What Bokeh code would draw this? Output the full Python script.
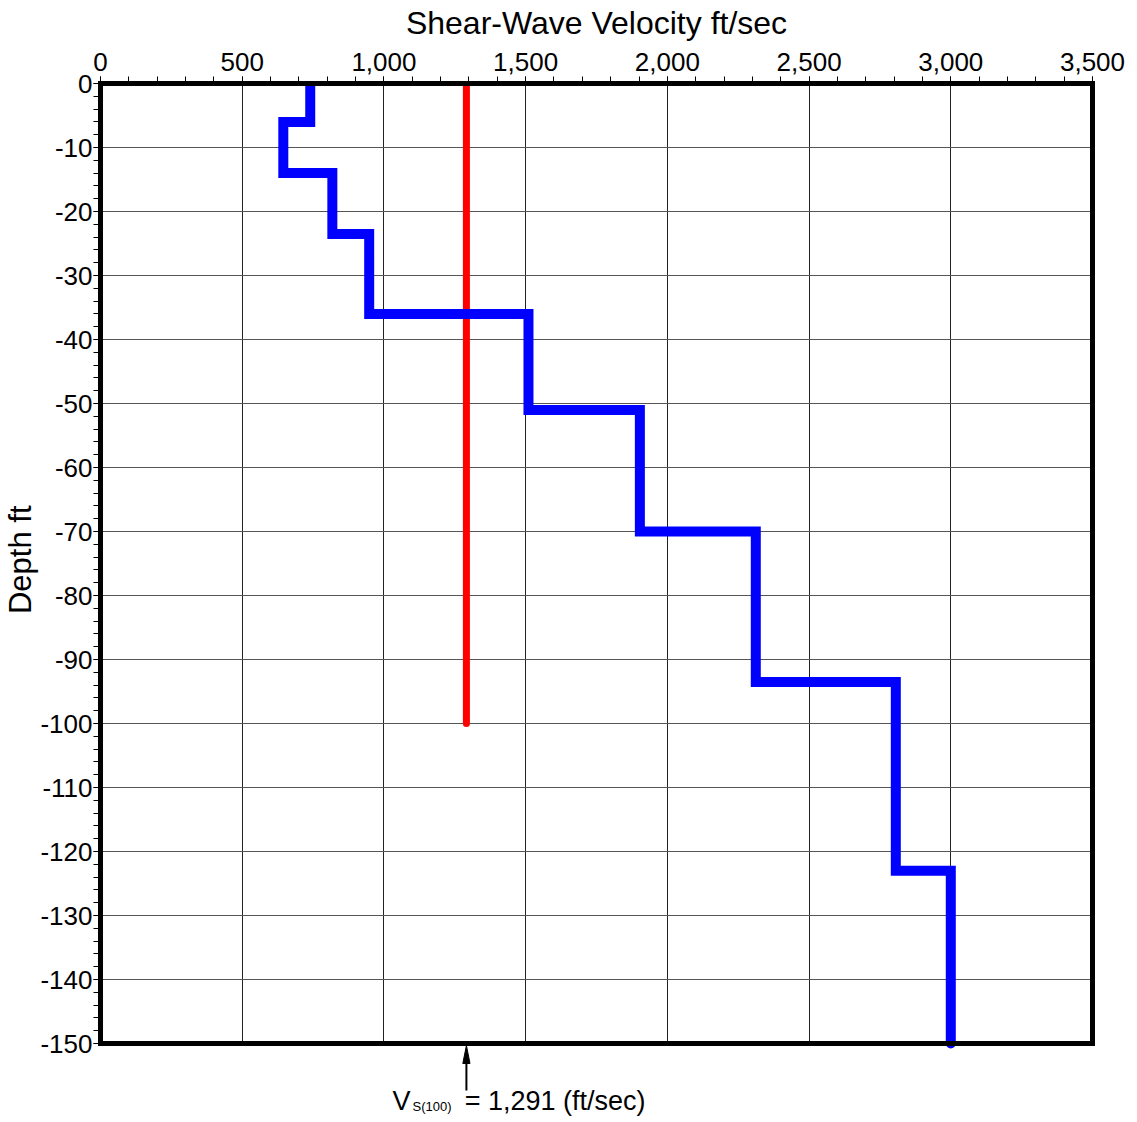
from bokeh.plotting import figure
from bokeh.models import (Range1d, SingleIntervalTicker, NumeralTickFormatter,
                          PrintfTickFormatter, FixedTicker, LinearAxis, Label, Span, Title)
from bokeh.embed import file_html
from bokeh.resources import INLINE

# --- data ---
layer_velocity = [740, 645, 818, 948, 1510, 1903, 2312, 2806, 3000]      # ft/sec
layer_top = [0, -6, -14, -23.5, -36, -51, -70, -93.5, -123]              # ft
layer_bottom = [-6, -14, -23.5, -36, -51, -70, -93.5, -123, -150]        # ft
vs100_value = 1291
vs100_depth = [0, -100]
x_min, x_max = 0, 3500
depth_min, depth_max = -150, 0
x_ticks_interval = 500
y_ticks_interval = 10

# build staircase profile from layer arrays
prof_x, prof_y = [], []
for v, t, b in zip(layer_velocity, layer_top, layer_bottom):
    prof_x += [v, v]
    prof_y += [t, b]

FONT = "Liberation Sans"
FRAME_W = 992
PX_PER_FT = 960 / (depth_max - depth_min)          # 6.4 px per ft
EXTRA_PX = 76                                        # annotation strip under the chart
FT_PER_PX = 1 / PX_PER_FT
X_PER_PX = (x_max - x_min) / FRAME_W
y_low = depth_min - EXTRA_PX * FT_PER_PX

p = figure(frame_width=FRAME_W, frame_height=960 + EXTRA_PX,
           x_range=Range1d(x_min, x_max), y_range=Range1d(y_low, depth_max),
           x_axis_location="above", y_axis_location="left",
           output_backend="svg", toolbar_location=None,
           min_border_left=100, min_border_top=83,
           min_border_right=40, min_border_bottom=0,
           outline_line_color=None,
           background_fill_color="white", border_fill_color="white")

xt = SingleIntervalTicker(interval=x_ticks_interval, num_minor_ticks=5)
yt = SingleIntervalTicker(interval=y_ticks_interval, num_minor_ticks=5)
p.xaxis.ticker = xt
p.yaxis.ticker = yt
p.xgrid.ticker = xt
p.ygrid.ticker = yt
p.yaxis.bounds = (depth_min, depth_max)
p.ygrid.bounds = (depth_min, depth_max)
p.xgrid.cross_bounds = (depth_min, depth_max)
p.xaxis.formatter = NumeralTickFormatter(format="0,0")
p.yaxis.formatter = PrintfTickFormatter(format="%d")

p.xgrid.grid_line_color = "#222222"
p.ygrid.grid_line_color = "#555555"
p.xgrid.grid_line_width = 1
p.ygrid.grid_line_width = 1

for ax in (p.xaxis, p.yaxis):
    ax.axis_line_color = "black"
    ax.axis_line_width = 5
    ax.axis_line_cap = "square"
    ax.major_tick_in = 0
    ax.minor_tick_in = 0
    ax.major_tick_out = 7
    ax.minor_tick_out = 7
    ax.major_tick_line_color = "black"
    ax.minor_tick_line_color = "black"
    ax.major_tick_line_width = 1
    ax.minor_tick_line_width = 1
    ax.major_label_text_font = FONT
    ax.major_label_text_font_size = "26px"
    ax.major_label_text_color = "black"
    ax.axis_label_text_font = FONT
    ax.axis_label_text_font_style = "normal"
    ax.axis_label_text_color = "black"

p.xaxis.axis_label = "Shear-Wave Velocity ft/sec"
p.xaxis.axis_label_text_font_size = "32px"
p.xaxis.major_label_standoff = 6
p.yaxis.major_label_standoff = 1
p.xaxis.axis_label_standoff = 9

# y-axis title, placed along the depth extent (0..-150) rather than the whole frame
p.add_layout(Title(text="Depth ft", align="right", offset=422, standoff=0,
                   vertical_align="bottom",
                   text_font=FONT, text_font_size="31px", text_font_style="normal",
                   text_color="black"), "left")

# right border (no ticks) and bottom border of the chart area
right_ax = LinearAxis(ticker=FixedTicker(ticks=[]), bounds=(depth_min, depth_max),
                      axis_line_color="black", axis_line_width=5, axis_line_cap="square",
                      major_tick_out=0, minor_tick_out=0, major_tick_in=0, minor_tick_in=0)
p.add_layout(right_ax, "right")
p.add_layout(Span(location=depth_min, dimension="width", line_color="black",
                  line_width=5))

# Vs100 line
p.line([vs100_value, vs100_value], vs100_depth, line_color="#ff0000",
       line_width=7, line_cap="round")

# profile
p.line(prof_x, prof_y, line_color="#0000ff", line_width=10,
       line_join="miter", line_cap="round")

# --- annotation under the chart ---
tip_y = depth_min - 2 * FT_PER_PX
head_len = 18 * FT_PER_PX
head_half = 3.6 * X_PER_PX
tail_y = depth_min - 47 * FT_PER_PX
p.segment(x0=[vs100_value], y0=[tail_y], x1=[vs100_value], y1=[tip_y - head_len + FT_PER_PX],
          line_color="black", line_width=2)
p.patch([vs100_value - head_half, vs100_value, vs100_value + head_half],
        [tip_y - head_len, tip_y, tip_y - head_len],
        fill_color="black", line_color="black", line_width=1)

base_y = depth_min - 57 * FT_PER_PX
p.add_layout(Label(x=vs100_value - 261, y=base_y, text="V", text_font=FONT, text_color="black",
                   text_font_size="27px", text_baseline="alphabetic", text_align="left"))
p.add_layout(Label(x=vs100_value - 190, y=base_y - 6 * FT_PER_PX, text="S(100)", text_font=FONT,
                   text_color="black",
                   text_font_size="13px", text_baseline="alphabetic", text_align="left"))
p.add_layout(Label(x=vs100_value - 6, y=base_y, text="= 1,291 (ft/sec)", text_font=FONT,
                   text_color="black",
                   text_font_size="27px", text_baseline="alphabetic", text_align="left"))

open("out.html", "w").write(file_html(p, INLINE))
